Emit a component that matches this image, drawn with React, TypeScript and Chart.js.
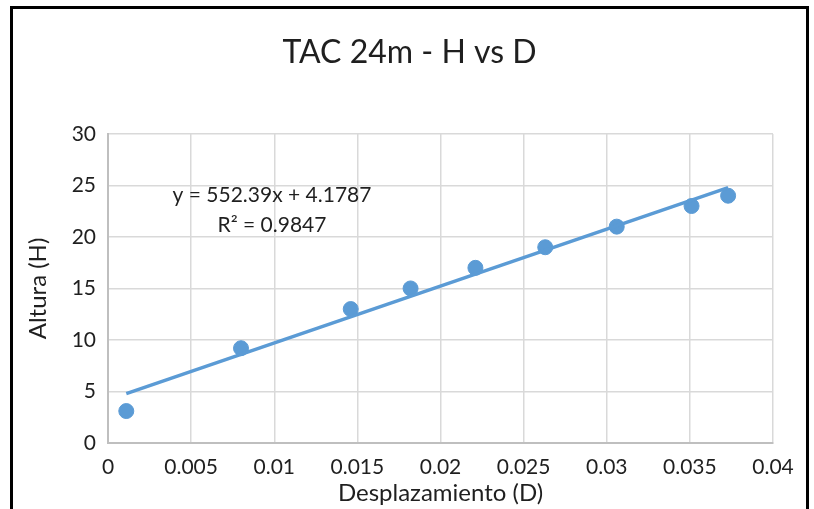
import React, { useEffect, useRef } from "react";
import { Chart, registerables } from "chart.js";

Chart.register(...registerables);

const desplazamiento = [0.0011, 0.008, 0.0146, 0.0182, 0.0221, 0.0263, 0.0306, 0.0351, 0.0373];
const altura = [3.1, 9.2, 13, 15, 17, 19, 21, 23, 24];
const trendSlope = 552.39;
const trendIntercept = 4.1787;
const equationLines = ["y = 552.39x + 4.1787", "R² = 0.9847"];
const chartTitle = "TAC 24m - H vs D";
const xTitle = "Desplazamiento (D)";
const yTitle = "Altura (H)";

const FONT = "Lato, 'Open Sans', sans-serif";
const TEXT = "#1f1f1f";
const BLUE = "#5B9BD5";

export default function App() {
  const ref = useRef<HTMLCanvasElement | null>(null);

  useEffect(() => {
    if (!ref.current) return;
    const xMin = Math.min(...desplazamiento);
    const xMax = Math.max(...desplazamiento);
    const trend = [xMin, xMax].map((x) => ({ x, y: trendSlope * x + trendIntercept }));
    const points = desplazamiento.map((x, i) => ({ x, y: altura[i] }));

    const eqPlugin = {
      id: "eqLabel",
      afterDraw(chart: any) {
        const ctx = chart.ctx;
        ctx.save();
        ctx.font = `21px ${FONT}`;
        ctx.fillStyle = TEXT;
        ctx.textAlign = "center";
        ctx.textBaseline = "middle";
        ctx.fillText(equationLines[0], 272, 195);
        ctx.fillText(equationLines[1], 272, 225);
        ctx.restore();
      },
    };

    const chart = new Chart(ref.current, {
      type: "scatter",
      data: {
        datasets: [
          {
            type: "line",
            label: "Lineal",
            data: trend,
            borderColor: BLUE,
            borderWidth: 3.5,
            pointRadius: 0,
            showLine: true,
            fill: false,
            order: 0,
          } as any,
          {
            label: "H",
            data: points,
            backgroundColor: BLUE,
            borderColor: BLUE,
            pointRadius: 7.5,
            pointHoverRadius: 7.5,
            order: 1,
          },
        ],
      },
      options: {
        animation: false,
        responsive: false,
        maintainAspectRatio: false,
        layout: { padding: { left: 46, right: 41, top: 0, bottom: 0 } },
        plugins: {
          legend: { display: false },
          tooltip: { enabled: false },
          title: {
            display: true,
            text: chartTitle,
            color: TEXT,
            font: { family: FONT, size: 32, weight: "normal", lineHeight: 1.2 },
            padding: { top: 33.5, bottom: 62 },
          },
        },
        scales: {
          x: {
            type: "linear",
            min: 0,
            max: 0.04,
            ticks: {
              stepSize: 0.005,
              color: TEXT,
              padding: 12,
              font: { family: FONT, size: 21 },
              callback: (v: any) => String(Number(Number(v).toFixed(3))),
            },
            grid: { color: "#D9D9D9", lineWidth: 1.5, drawTicks: false },
            border: { color: "#BFBFBF", width: 2 },
            title: {
              display: true,
              text: xTitle,
              color: TEXT,
              font: { family: FONT, size: 24, lineHeight: 1.2 },
              padding: { top: 0, bottom: 1.5 },
            },
            afterFit: (s: any) => {
              s.height = 66;
            },
          },
          y: {
            type: "linear",
            min: 0,
            max: 30,
            ticks: {
              stepSize: 5,
              color: TEXT,
              padding: 12,
              font: { family: FONT, size: 21 },
            },
            grid: { color: "#D9D9D9", lineWidth: 1.5, drawTicks: false },
            border: { color: "#BFBFBF", width: 2 },
            title: {
              display: true,
              text: yTitle,
              color: TEXT,
              font: { family: FONT, size: 24, lineHeight: 1.2 },
              padding: { top: -22.4, bottom: 0 },
            },
            afterFit: (s: any) => {
              s.width = 62;
            },
          },
        },
      },
      plugins: [eqPlugin],
    });
    return () => chart.destroy();
  }, []);

  return (
    <div
      style={{
        position: "absolute",
        left: 0,
        top: 0,
        width: 814,
        height: 509,
        overflow: "hidden",
        background: "#fff",
      }}
    >
      <canvas ref={ref} width={814} height={509} style={{ position: "absolute", left: 0, top: 0 }} />
      <div
        style={{
          position: "absolute",
          left: 10,
          top: 6,
          width: 799,
          height: 530,
          border: "3px solid #000",
          boxSizing: "border-box",
          pointerEvents: "none",
        }}
      />
    </div>
  );
}
